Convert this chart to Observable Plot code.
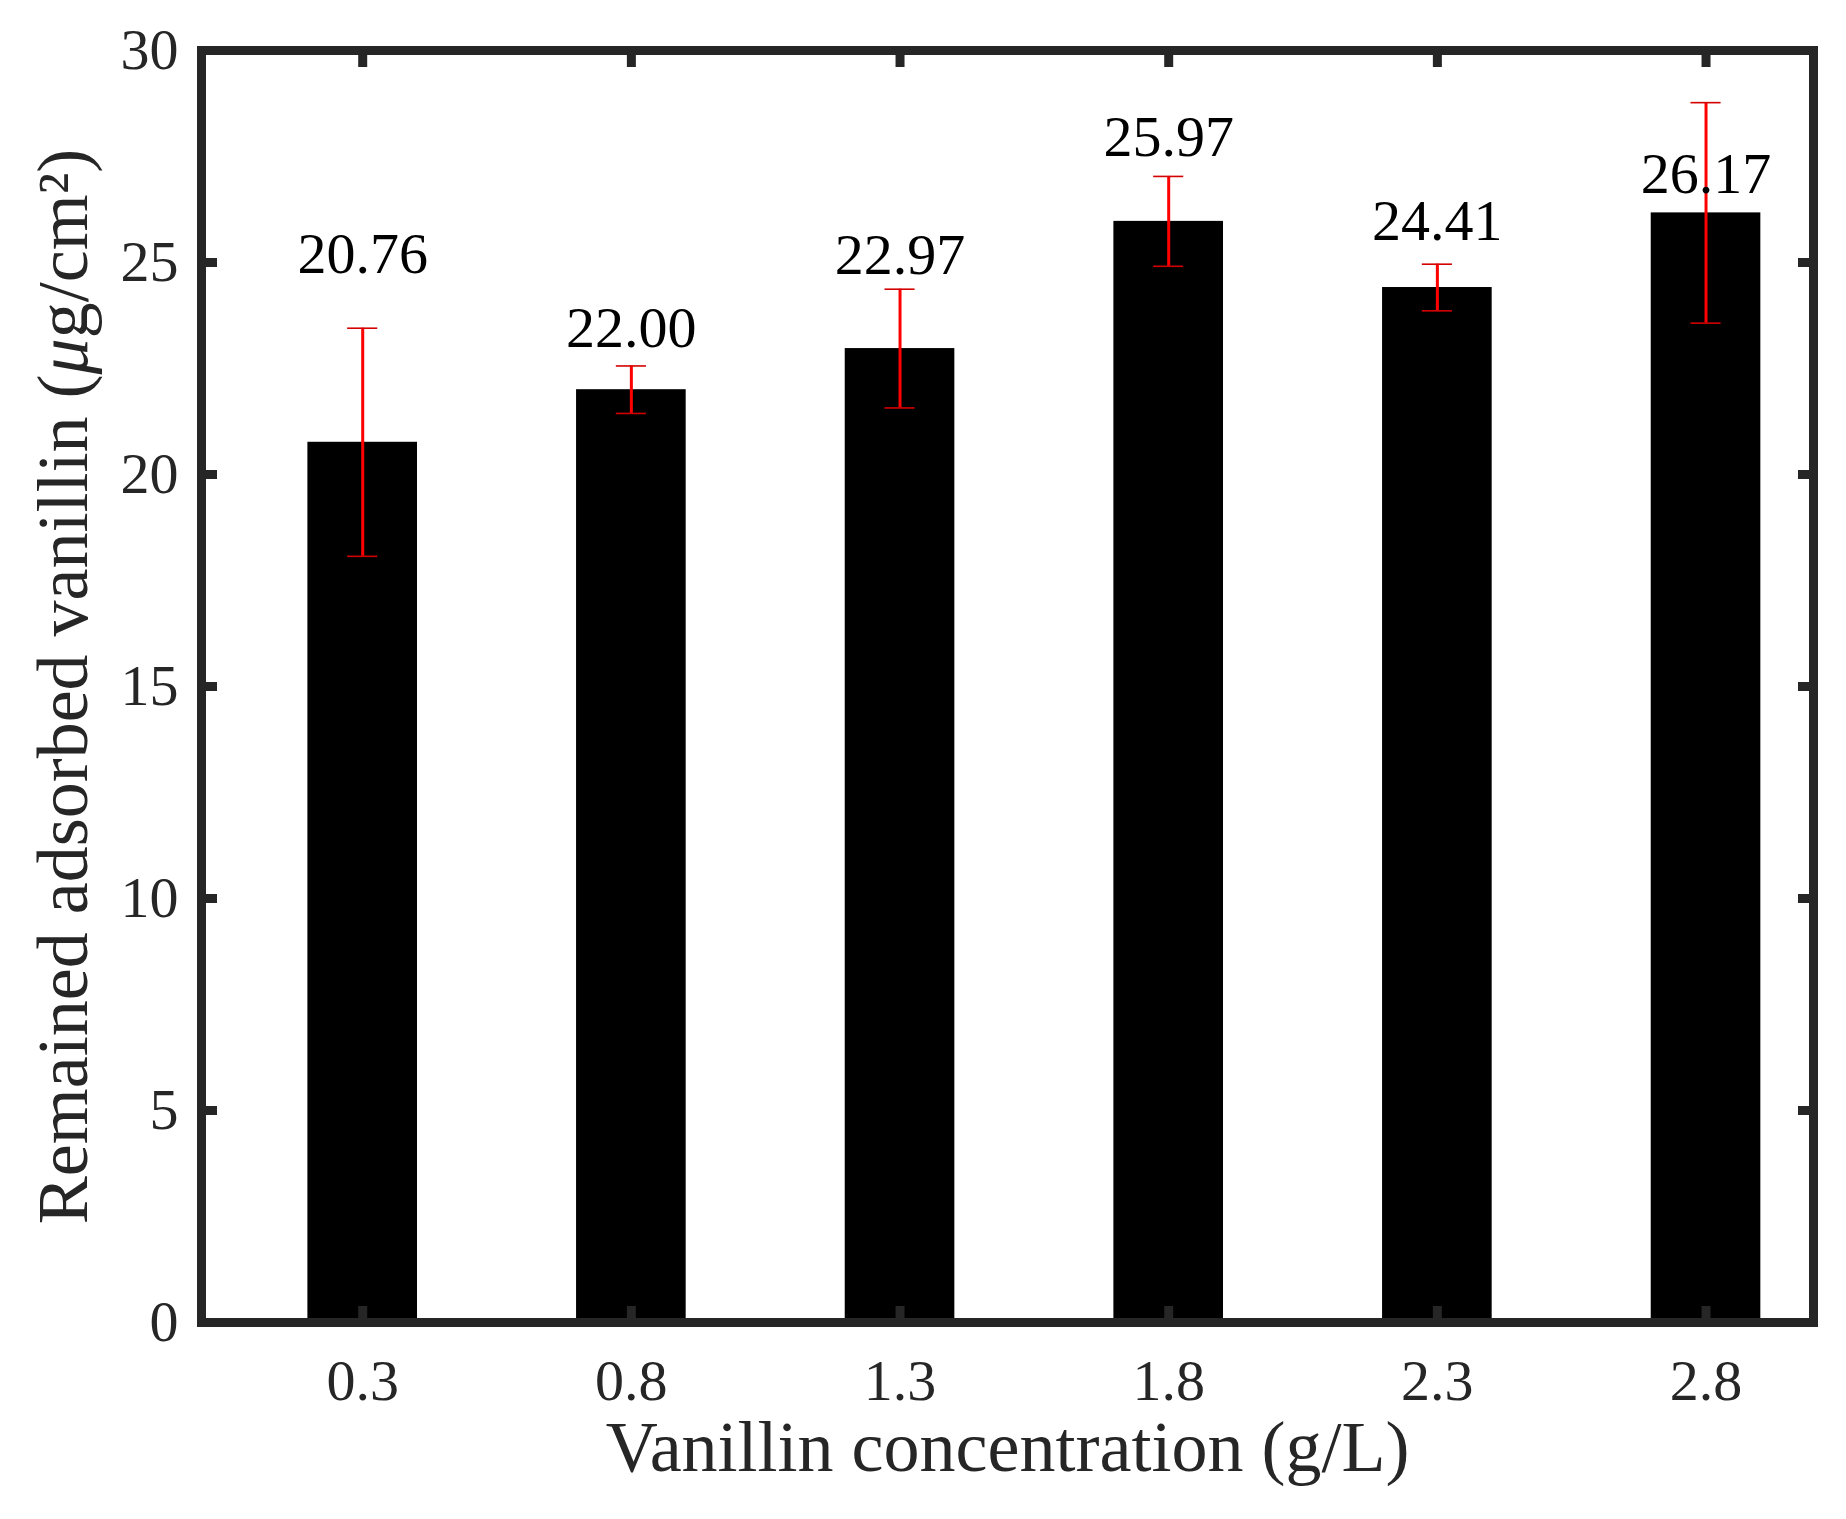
<!DOCTYPE html>
<html>
<head>
<meta charset="utf-8">
<script src="https://cdn.jsdelivr.net/npm/d3@7"></script>
<script src="https://cdn.jsdelivr.net/npm/@observablehq/plot@0.6"></script>
<style>
  html, body { margin: 0; padding: 0; background: #ffffff; overflow: hidden; }
  #chart svg { display: block; }
</style>
</head>
<body>
<div id="chart"></div>
<script>
// ---- data ----
const concentrations = [0.3, 0.8, 1.3, 1.8, 2.3, 2.8];          // g/L
const adsorbed       = [20.76, 22.00, 22.97, 25.97, 24.41, 26.17]; // µg/cm²
const errors         = [2.69, 0.56, 1.40, 1.06, 0.55, 2.60];       // ± error
const labelHeights   = [24.76, 23.00, 24.72, 27.52, 25.52, 26.65]; // value-label anchors (data units)
const yTicks = [0, 5, 10, 15, 20, 25, 30];
const xTitle = "Vanillin concentration (g/L)";
const yTitlePre = "Remained adsorbed vanillin (";
const yTitleMu = "\u03BC";
const yTitlePost = "g/cm\u00B2)";
const yTitle = yTitlePre + yTitleMu + yTitlePost;

const data = concentrations.map((c, i) => ({
  conc: c, value: adsorbed[i], err: errors[i], labelY: labelHeights[i]
}));

const barHalf = 0.102;   // half bar width in x units
const capHalf = 0.028;   // half cap width in x units
const axisColor = "#262626";
const font = "'Liberation Serif', 'DejaVu Serif', serif";

const chart = Plot.plot({
  width: 1846,
  height: 1519,
  marginLeft: 201,
  marginRight: 33,
  marginTop: 50,
  marginBottom: 197,
  style: { fontFamily: font, background: "#ffffff" },
  x: { domain: [0, 3] },
  y: { domain: [0, 30] },
  marks: [
    Plot.rectY(data, {
      x1: d => d.conc - barHalf, x2: d => d.conc + barHalf,
      y1: 0, y2: "value", fill: "#000000"
    }),
    Plot.ruleX(data, {
      x: "conc", y1: d => d.value - d.err, y2: d => d.value + d.err,
      stroke: "#ff0000", strokeWidth: 3
    }),
    Plot.ruleY(data, {
      y: d => d.value + d.err, x1: d => d.conc - capHalf, x2: d => d.conc + capHalf,
      stroke: "#d40000", strokeWidth: 1.6
    }),
    Plot.ruleY(data, {
      y: d => d.value - d.err, x1: d => d.conc - capHalf, x2: d => d.conc + capHalf,
      stroke: "#d40000", strokeWidth: 1.6
    }),
    Plot.text(data, {
      x: "conc", y: "labelY", text: d => d3.format(".2f")(d.value),
      lineAnchor: "bottom", textAnchor: "middle", fontSize: 58, fill: "#000000"
    }),
    // frame (box)
    Plot.frame({ stroke: axisColor, strokeWidth: 9 }),
    // inward ticks on all four sides
    Plot.axisX(concentrations, { anchor: "bottom", tickSize: -16, strokeWidth: 9, stroke: axisColor, tickFormat: () => "", label: null }),
    Plot.axisX(concentrations, { anchor: "top", tickSize: -16, strokeWidth: 9, stroke: axisColor, tickFormat: () => "", label: null }),
    Plot.axisY(yTicks, { anchor: "left", tickSize: -16, strokeWidth: 9, stroke: axisColor, tickFormat: () => "", label: null }),
    Plot.axisY(yTicks, { anchor: "right", tickSize: -16, strokeWidth: 9, stroke: axisColor, tickFormat: () => "", label: null }),
    // tick labels
    Plot.axisX(concentrations, { anchor: "bottom", tickSize: 0, tickPadding: 36, fontSize: 58, fill: axisColor, tickFormat: d => d.toFixed(1), label: null }),
    Plot.axisY(yTicks, { anchor: "left", tickSize: 0, tickPadding: 23, fontSize: 58, fill: axisColor, tickFormat: d => String(d), label: null }),
    // axis titles
    Plot.text([xTitle], { text: d => d, frameAnchor: "bottom", dy: 148, lineAnchor: "bottom", textAnchor: "middle", fontSize: 72, fill: axisColor }),
    Plot.text([yTitle], { text: d => d, frameAnchor: "left", dx: -138, rotate: -90, lineAnchor: "middle", textAnchor: "middle", fontSize: 72, fill: axisColor })
  ]
});

// italic µ in the y title (math style, as in the reference)
const NS = "http://www.w3.org/2000/svg";
for (const t of chart.querySelectorAll("text")) {
  if (t.textContent === yTitle) {
    while (t.firstChild) t.removeChild(t.firstChild);
    const a = document.createElementNS(NS, "tspan"); a.textContent = yTitlePre;
    const b = document.createElementNS(NS, "tspan"); b.textContent = yTitleMu; b.setAttribute("font-style", "italic");
    const c = document.createElementNS(NS, "tspan"); c.textContent = yTitlePost;
    t.append(a, b, c);
  }
}

document.getElementById("chart").appendChild(chart);
</script>
</body>
</html>
